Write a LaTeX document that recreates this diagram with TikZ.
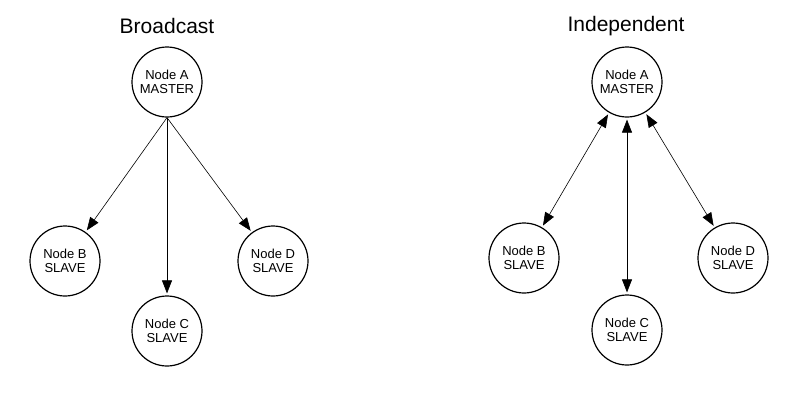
\documentclass[tikz,border=0pt]{standalone}
\usepackage{fontspec}
\setmainfont{Liberation Sans}
\usetikzlibrary{arrows.meta}

\tikzset{
  station/.style={circle, draw, line width=1.2pt, minimum size=70pt, inner sep=0pt, align=center, font=\fontsize{13}{14.5}\selectfont},
  heading/.style={font=\fontsize{21}{24}\selectfont},
  link/.style={line width=0.6pt, -{Triangle[length=13pt,width=10pt]}, shorten >=2pt},
  duplex/.style={line width=0.6pt, {Triangle[length=13pt,width=10pt]}-{Triangle[length=13pt,width=10pt]}, shorten >=2pt, shorten <=2pt}
}

\begin{document}
\begin{tikzpicture}[x=1pt, y=-1pt]
\useasboundingbox (0,0) rectangle (793,394);

% broadcast
\node[heading] (T1) at (167,26) {Broadcast};
\node[station] (A1) at (167,82) {Node A\\MASTER};
\node[station] (B1) at (65,261) {Node B\\SLAVE};
\node[station] (C1) at (167,331) {Node C\\SLAVE};
\node[station] (D1) at (273,261) {Node D\\SLAVE};
\draw[link] (A1.south) -- (B1);
\draw[link] (A1.south) -- (C1);
\draw[link] (A1.south) -- (D1);

% independent
\node[heading] (T2) at (626,26) {Independent};
\node[station] (A2) at (627,82) {Node A\\MASTER};
\node[station] (B2) at (524,258) {Node B\\SLAVE};
\node[station] (C2) at (627,330) {Node C\\SLAVE};
\node[station] (D2) at (733,258) {Node D\\SLAVE};
\draw[duplex] (A2) -- (B2);
\draw[duplex] (A2) -- (C2);
\draw[duplex] (A2) -- (D2);
\end{tikzpicture}
\end{document}
